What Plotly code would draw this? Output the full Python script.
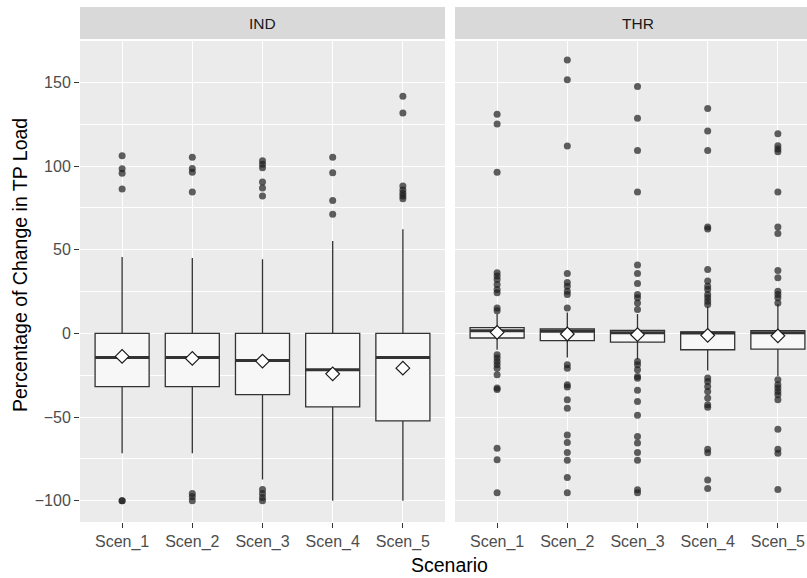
import plotly.graph_objects as go

# ---- data -----------------------------------------------------------------
scenarios = ["Scen_1", "Scen_2", "Scen_3", "Scen_4", "Scen_5"]
facets = ["IND", "THR"]

# IND: box statistics per scenario
ind_q1 = [-31.8, -31.8, -36.6, -43.9, -52.3]
ind_median = [-14.4, -14.4, -16.2, -21.8, -14.4]
ind_q3 = [0.0, 0.0, 0.0, 0.0, 0.0]
ind_lower = [-71.7, -71.7, -87.3, -100.0, -100.0]
ind_upper = [45.6, 45.0, 44.2, 55.2, 62.2]
ind_mean = [-13.8, -15.0, -16.6, -24.2, -20.8]
ind_outliers = [
    [106.1, 98.3, 95.7, 86.2, -100.0, -100.0],
    [105.3, 98.5, 96.2, 84.5, -95.7, -97.7, -100.0],
    [103.1, 101.0, 99.0, 90.5, 86.9, 82.1, -93.3, -95.7, -98.1, -100.0],
    [105.3, 95.9, 79.4, 71.2],
    [141.7, 131.7, 88.1, 85.7, 83.7, 82.1, 80.5],
]

# THR: box statistics per scenario
thr_q1 = [-2.8, -4.4, -5.2, -9.8, -9.4]
thr_median = [1.6, 1.2, 0.4, 0.2, 0.4]
thr_q3 = [3.4, 2.6, 1.8, 0.8, 1.6]
thr_lower = [-9.8, -14.5, -15.5, -22.2, -25.5]
thr_upper = [11.5, 12.5, 11.5, 16.0, 17.5]
thr_mean = [0.6, -0.4, -0.8, -1.2, -1.5]
thr_outliers = [
    [130.9, 125.1, 96.2, 36.2, 34.2, 32.2, 29.2, 26.2, 24.2, 15.2, 13.5,
     -12.8, -14.8, -16.8, -18.8, -20.8, -24.8, -32.7, -33.5, -68.7, -75.5, -95.2],
    [163.3, 151.5, 111.9, 35.8, 30.4, 28.2, 25.2, 23.2, 15.2,
     -18.8, -20.8, -30.8, -32.0, -39.7, -44.7, -60.7, -65.2, -71.2, -75.9, -86.1, -95.2],
    [147.5, 128.5, 109.3, 84.5, 40.8, 35.8, 29.8, 23.2, 21.2, 18.2, 14.2,
     -16.8, -18.8, -21.8, -25.8, -26.8, -34.0, -40.8, -48.9, -61.7, -65.5, -71.2,
     -75.9, -93.5, -95.2],
    [134.3, 120.9, 109.3, 63.5, 62.3, 38.2, 31.2, 28.2, 26.2, 23.2, 21.2, 19.2, 17.2,
     -26.7, -28.8, -31.8, -34.8, -38.7, -42.7, -44.1, -69.3, -71.3, -87.7, -92.7],
    [119.3, 112.1, 110.1, 108.5, 84.5, 63.5, 59.6, 37.6, 33.2, 25.2, 23.2, 21.2, 18.2,
     -27.8, -30.8, -32.7, -34.8, -36.7, -39.7, -57.3, -69.3, -71.7, -93.3],
]

y_ticks = [-100, -50, 0, 50, 100, 150]
y_minor = [-75, -25, 25, 75, 125, 175]

# ---- styling --------------------------------------------------------------
FONT = "Liberation Sans, Arial, sans-serif"
PANEL_BG = "#EBEBEB"
STRIP_BG = "#D9D9D9"
LINE = "#333333"
BOX_FILL = "#F7F7F7"
POINT = "rgba(30,30,30,0.70)"
BOX_W = 0.77

W, H = 807, 578
ML, MR, MT, MB = 80, 0, 41, 56
plot_w = W - ML - MR
plot_h = H - MT - MB

# panel pixel extents
left_px = (80, 445)
right_px = (455, 807)
px_per_unit = (left_px[1] - left_px[0]) / 5.2
x1_range = [0.4, 5.6]
x2_range = [0.4, 0.4 + (right_px[1] - right_px[0]) / px_per_unit]
dom1 = [(left_px[0] - ML) / plot_w, (left_px[1] - ML) / plot_w]
dom2 = [(right_px[0] - ML) / plot_w, 1.0]
y_range = [-112.75, 174.7]

positions = list(range(1, len(scenarios) + 1))

fig = go.Figure()


def add_facet(xa, ya, q1, med, q3, lo, hi, mean, outliers):
    fig.add_trace(go.Box(
        x=positions, q1=q1, median=med, q3=q3,
        lowerfence=lo, upperfence=hi,
        width=BOX_W, whiskerwidth=0, boxpoints=False,
        fillcolor=BOX_FILL, line=dict(color=LINE, width=1.3),
        xaxis=xa, yaxis=ya, showlegend=False, hoverinfo="skip",
    ))
    # outliers
    ox, oy = [], []
    for p, vals in zip(positions, outliers):
        ox += [p] * len(vals)
        oy += vals
    fig.add_trace(go.Scatter(
        x=ox, y=oy, mode="markers",
        marker=dict(size=7, color=POINT, line=dict(width=0)),
        xaxis=xa, yaxis=ya, showlegend=False, hoverinfo="skip",
    ))
    # thicker median bar
    mx, my = [], []
    for p, m in zip(positions, med):
        mx += [p - BOX_W / 2, p + BOX_W / 2, None]
        my += [m, m, None]
    fig.add_trace(go.Scatter(
        x=mx, y=my, mode="lines", line=dict(color=LINE, width=3),
        xaxis=xa, yaxis=ya, showlegend=False, hoverinfo="skip",
    ))
    # mean marker
    fig.add_trace(go.Scatter(
        x=positions, y=mean, mode="markers",
        marker=dict(symbol="diamond", size=10.5, color="white",
                    line=dict(color="#1A1A1A", width=1.2)),
        xaxis=xa, yaxis=ya, showlegend=False, hoverinfo="skip",
    ))


add_facet("x", "y", ind_q1, ind_median, ind_q3, ind_lower, ind_upper, ind_mean, ind_outliers)
add_facet("x2", "y2", thr_q1, thr_median, thr_q3, thr_lower, thr_upper, thr_mean, thr_outliers)

tick_font = dict(family=FONT, size=16, color="#4D4D4D")
xaxis_common = dict(
    tickmode="array", tickvals=positions, ticktext=scenarios,
    showgrid=True, gridcolor="white", gridwidth=1.4,
    zeroline=False, showline=False,
    ticks="outside", ticklen=5, tickwidth=1, tickcolor=LINE,
    tickfont=tick_font, fixedrange=True,
)
yaxis_common = dict(
    range=y_range, tickmode="array", tickvals=y_ticks,
    showgrid=True, gridcolor="white", gridwidth=1.4,
    minor=dict(tickmode="array", tickvals=y_minor, showgrid=True,
               gridcolor="white", gridwidth=0.7, ticks=""),
    zeroline=False, showline=False,
    ticks="outside", ticklen=5, tickwidth=1, tickcolor=LINE,
    tickfont=tick_font, fixedrange=True,
)

fig.update_layout(
    width=W, height=H,
    margin=dict(l=ML, r=MR, t=MT, b=MB, pad=0),
    paper_bgcolor="white", plot_bgcolor=PANEL_BG,
    xaxis=dict(domain=dom1, range=x1_range, anchor="y", **xaxis_common),
    xaxis2=dict(domain=dom2, range=x2_range, anchor="y2", **xaxis_common),
    yaxis=dict(anchor="x", **yaxis_common),
    yaxis2=dict(anchor="x2", matches="y", showticklabels=False,
                **{k: v for k, v in yaxis_common.items() if k != "tickfont"}),
    showlegend=False,
)
fig.update_yaxes(ticks="", selector=dict(anchor="x2"))

# facet strips
strip_y0 = 1 + (MT - 39) / plot_h
strip_y1 = 1 + (MT - 7) / plot_h
for dom, label in zip([dom1, dom2], facets):
    fig.add_shape(type="rect", xref="paper", yref="paper",
                  x0=dom[0], x1=dom[1], y0=strip_y0, y1=strip_y1,
                  fillcolor=STRIP_BG, line=dict(width=0), layer="below")
xa_refs = ["x", "x2"]
for xr, label in zip(xa_refs, facets):
    fig.add_annotation(x=(x1_range[0] + x1_range[1]) / 2, xref=xr,
                       y=(strip_y0 + strip_y1) / 2, yref="paper",
                       text=label, showarrow=False,
                       font=dict(family=FONT, size=15.5, color="#1A1A1A"),
                       xanchor="center", yanchor="middle")

# axis titles
fig.add_annotation(x=(20 - ML) / plot_w, xref="paper",
                   y=(H - MB - 265) / plot_h, yref="paper",
                   text="Percentage of Change in TP Load", textangle=-90,
                   showarrow=False, xanchor="center", yanchor="middle",
                   font=dict(family=FONT, size=19.5, color="black"))
fig.add_annotation(x=(450 - ML) / plot_w, xref="paper",
                   y=(H - MB - 565) / plot_h, yref="paper",
                   text="Scenario", showarrow=False,
                   xanchor="center", yanchor="middle",
                   font=dict(family=FONT, size=19.5, color="black"))

fig.write_html("out.html")
